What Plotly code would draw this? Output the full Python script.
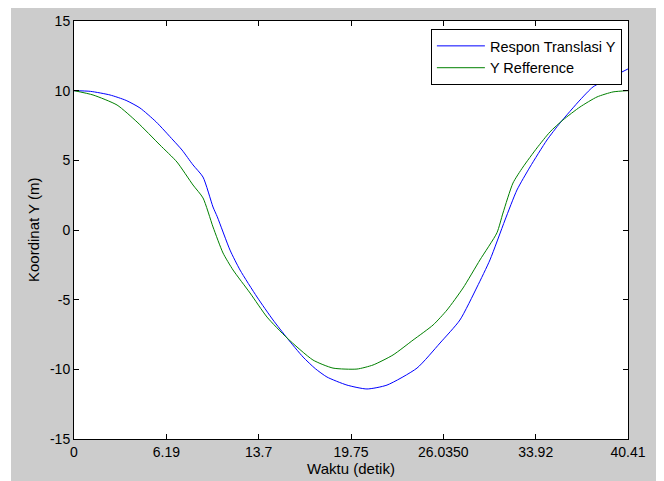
import plotly.graph_objects as go

# Time (s) and values
t_resp = [0.00, 1.20, 2.63, 3.80, 4.81, 6.00, 7.22, 7.88, 8.68, 9.41, 10.14, 10.45, 11.38, 12.11,
          13.35, 14.52, 15.54, 16.71, 17.60, 18.45, 19.91, 21.37, 22.83, 25.02, 26.70, 28.15,
          29.40, 30.34, 31.44, 32.31, 33.26, 34.50, 35.45, 36.91, 37.86, 39.10, 40.41]
y_resp = [10.00, 9.95, 9.69, 9.30, 8.76, 7.75, 6.46, 5.74, 4.67, 3.80, 1.65, 0.95, -1.44, -2.87,
          -4.81, -6.46, -7.75, -9.12, -9.95, -10.55, -11.13, -11.41, -11.13, -9.91, -8.11, -6.46,
          -4.09, -2.15, 0.72, 2.87, 4.52, 6.46, 7.68, 9.33, 10.27, 10.91, 11.56]

t_ref = [0.00, 1.39, 3.14, 4.60, 6.27, 7.51, 8.68, 9.41, 10.14, 10.87, 11.60, 12.84, 14.08,
         15.54, 17.43, 18.89, 20.64, 21.81, 23.27, 24.73, 26.19, 27.21, 28.38, 29.61,
         30.85, 31.29, 32.02, 32.75, 33.77, 34.72, 35.67, 36.91, 38.15, 39.32, 40.41]
y_ref = [10.00, 9.69, 8.97, 7.75, 6.10, 4.88, 3.23, 2.30, 0.22, -1.65, -2.87, -4.52, -6.25,
         -7.75, -9.33, -9.91, -9.98, -9.69, -8.97, -7.90, -6.82, -5.74, -4.16, -2.15,
         -0.20, 1.22, 3.37, 4.52, 5.89, 7.04, 7.90, 8.83, 9.55, 9.91, 10.00]

x_tick_labels = ["0", "6.19", "13.7", "19.75", "26.0350", "33.92", "40.41"]
t_end = 40.41
x_tick_vals = [i * t_end / (len(x_tick_labels) - 1) for i in range(len(x_tick_labels))]
y_tick_vals = [-15, -10, -5, 0, 5, 10, 15]
y_tick_labels = ["-15", "-10", "-5", "0", "5", "10", "15"]

FONT = "Liberation Sans, Arial, Helvetica, sans-serif"

fig = go.Figure()
fig.add_trace(go.Scatter(x=t_resp, y=y_resp, mode="lines", name="Respon Translasi Y",
                         line=dict(color="#0000ff", width=1, shape="spline", smoothing=0.6)))
fig.add_trace(go.Scatter(x=t_ref, y=y_ref, mode="lines", name="Y Refference",
                         line=dict(color="#008000", width=1, shape="spline", smoothing=0.6)))

axis_common = dict(showgrid=False, zeroline=False, showline=True, linecolor="black",
                   linewidth=1, mirror="ticks", ticks="inside", ticklen=5,
                   tickcolor="black", tickfont=dict(family=FONT, size=14, color="black"))

fig.update_xaxes(range=[0, t_end], tickmode="array", tickvals=x_tick_vals,
                 ticktext=x_tick_labels,
                 title=dict(text="Waktu (detik)", font=dict(family=FONT, size=15, color="black"),
                            standoff=3),
                 **axis_common)
fig.update_yaxes(range=[-15, 15], tickmode="array", tickvals=y_tick_vals,
                 ticktext=y_tick_labels, **axis_common)

# page body has an 8px white margin; figure occupies page pixels 8..664 x 8..481
fig.update_layout(
    width=656, height=473,
    margin=dict(l=66, r=36, t=13, b=42, autoexpand=False),
    paper_bgcolor="#cccccc", plot_bgcolor="white",
    showlegend=True,
    legend=dict(x=0.989, xanchor="right", y=0.981, yanchor="top",
                bgcolor="white", bordercolor="black", borderwidth=1,
                font=dict(family=FONT, size=14.5, color="black"),
                itemwidth=48, tracegroupgap=0),
    annotations=[
        dict(text="Koordinat Y (m)", xref="paper", yref="paper", x=-0.074, y=0.5,
             xanchor="center", yanchor="middle", textangle=-90, showarrow=False,
             font=dict(family=FONT, size=15, color="black")),
    ],
    shapes=[
        dict(type="rect", xref="paper", yref="paper", x0=-0.125, x1=-0.1137,
             y0=-0.2, y1=1.2, fillcolor="white", line=dict(width=0), layer="below"),
    ],
)

fig.write_html("out.html")
